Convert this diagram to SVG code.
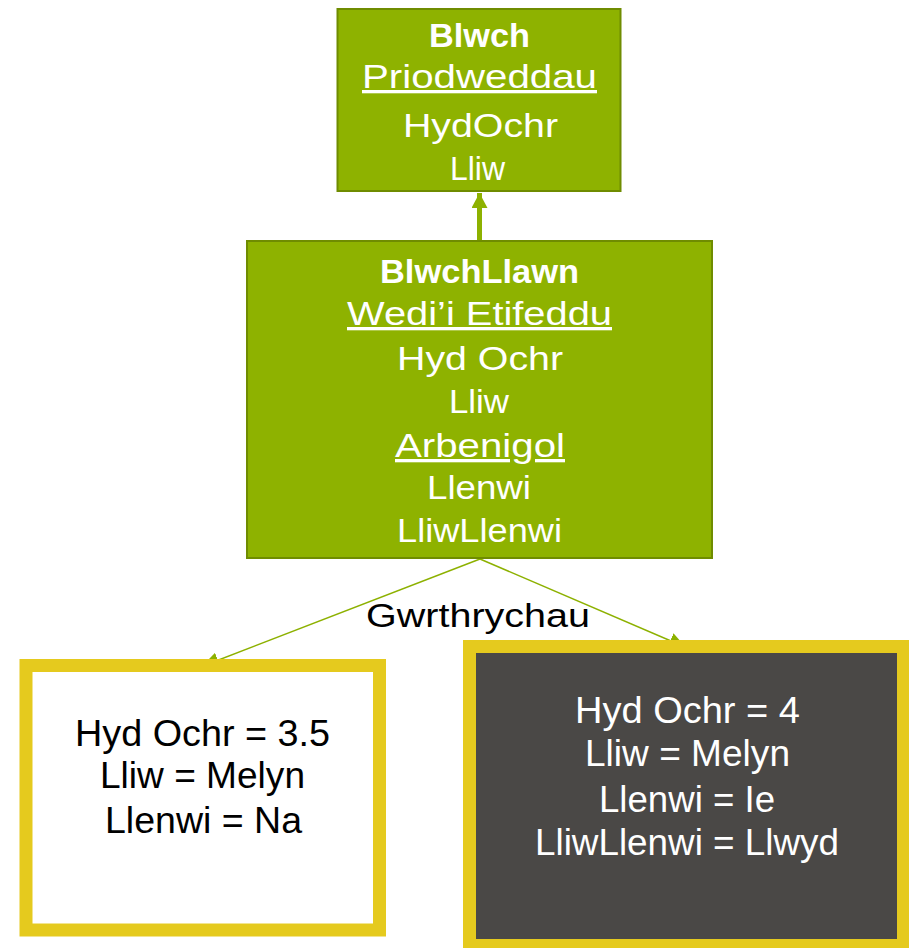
<svg xmlns="http://www.w3.org/2000/svg" width="909" height="948" viewBox="0 0 909 948">
<defs>
<style>
.cls{fill:#8EB200;stroke:#6F8C00;stroke-width:2}
.t{font-family:"Liberation Sans","DejaVu Sans",sans-serif;text-anchor:middle}
.w{fill:#ffffff;font-size:33px}
.b{font-weight:bold}
.u{text-decoration:underline}
.k{fill:#000000}
.obj{stroke:#E5CA1E;stroke-width:13}
.conn{stroke:#8DB100;fill:none}
</style>
<marker id="ah" viewBox="0 0 17 16" refX="16" refY="8" markerWidth="17" markerHeight="16" markerUnits="userSpaceOnUse" orient="auto">
<path d="M0,0 L17,8 L0,16 Z" fill="#8DB100"/>
</marker>
<marker id="ahb" viewBox="0 0 15 16" refX="15" refY="8" markerWidth="15" markerHeight="16" markerUnits="userSpaceOnUse" orient="auto">
<path d="M0,0 L15,8 L0,16 Z" fill="#8DB100"/>
</marker>
</defs>
<rect width="909" height="948" fill="#ffffff"/>
<g id="connectors">
<line class="conn" x1="479.5" y1="241" x2="479.5" y2="193" stroke-width="5" marker-end="url(#ahb)"/>
<line class="conn" x1="480" y1="559" x2="203" y2="666" stroke-width="1.5" marker-end="url(#ah)"/>
<line class="conn" x1="480" y1="559" x2="685" y2="647" stroke-width="1.5" marker-end="url(#ah)"/>
<text class="t k" x="478" y="627" font-size="33" textLength="224" lengthAdjust="spacingAndGlyphs">Gwrthrychau</text>
</g>
<g id="blwch">
<rect class="cls" x="337.5" y="9" width="283" height="182"/>
<text class="t w b" x="479.5" y="47" textLength="101" lengthAdjust="spacingAndGlyphs">Blwch</text>
<text class="t w u" x="479.5" y="88" textLength="235" lengthAdjust="spacingAndGlyphs">Priodweddau</text>
<text class="t w" x="480.5" y="137" textLength="155" lengthAdjust="spacingAndGlyphs">HydOchr</text>
<text class="t w" x="477.5" y="180" textLength="55" lengthAdjust="spacingAndGlyphs">Lliw</text>
</g>
<g id="blwchllawn">
<rect class="cls" x="247" y="241" width="465" height="317"/>
<text class="t w b" x="479.5" y="283" textLength="199" lengthAdjust="spacingAndGlyphs">BlwchLlawn</text>
<text class="t w u" x="479.5" y="325" textLength="265" lengthAdjust="spacingAndGlyphs">Wedi’i Etifeddu</text>
<text class="t w" x="480" y="370" textLength="166" lengthAdjust="spacingAndGlyphs">Hyd Ochr</text>
<text class="t w" x="479" y="413" textLength="60" lengthAdjust="spacingAndGlyphs">Lliw</text>
<text class="t w u" x="480" y="457" textLength="170" lengthAdjust="spacingAndGlyphs">Arbenigol</text>
<text class="t w" x="479" y="499" textLength="104" lengthAdjust="spacingAndGlyphs">Llenwi</text>
<text class="t w" x="479.5" y="542" textLength="165" lengthAdjust="spacingAndGlyphs">LliwLlenwi</text>
</g>
<g id="gwrthrych1">
<rect class="obj" x="26" y="665.5" width="353.5" height="264.5" fill="#ffffff"/>
<text class="t k" x="202.5" y="746" font-size="36" textLength="255" lengthAdjust="spacingAndGlyphs">Hyd Ochr = 3.5</text>
<text class="t k" x="202.5" y="788" font-size="36" textLength="205" lengthAdjust="spacingAndGlyphs">Lliw = Melyn</text>
<text class="t k" x="203.5" y="833" font-size="36" textLength="197" lengthAdjust="spacingAndGlyphs">Llenwi = Na</text>
</g>
<g id="gwrthrych2">
<rect class="obj" x="469.5" y="646.5" width="434" height="299" fill="#4A4846"/>
<text class="t" fill="#ffffff" x="687.5" y="723" font-size="36" textLength="225" lengthAdjust="spacingAndGlyphs">Hyd Ochr = 4</text>
<text class="t" fill="#ffffff" x="687.5" y="766" font-size="36" textLength="205" lengthAdjust="spacingAndGlyphs">Lliw = Melyn</text>
<text class="t" fill="#ffffff" x="687" y="812" font-size="36" textLength="176" lengthAdjust="spacingAndGlyphs">Llenwi = Ie</text>
<text class="t" fill="#ffffff" x="687" y="855" font-size="36" textLength="304" lengthAdjust="spacingAndGlyphs">LliwLlenwi = Llwyd</text>
</g>
</svg>
